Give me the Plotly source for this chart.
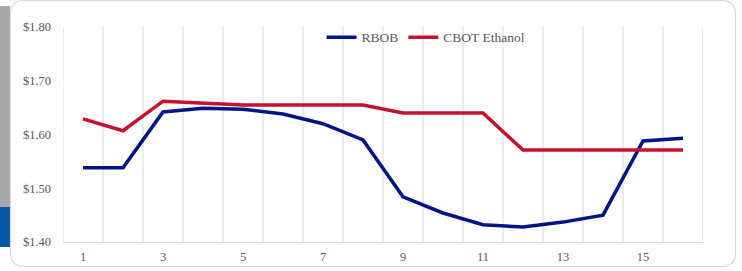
import plotly.graph_objects as go

categories = list(range(1, 17))
tick_labels = ["1", "", "3", "", "5", "", "7", "", "9", "", "11", "", "13", "", "15", ""]
rbob = [1.538, 1.538, 1.642, 1.649, 1.647, 1.638, 1.620, 1.590,
        1.484, 1.454, 1.432, 1.428, 1.437, 1.450, 1.588, 1.593]
ethanol = [1.629, 1.607, 1.662, 1.659, 1.655, 1.655, 1.655, 1.655,
           1.640, 1.640, 1.640, 1.571, 1.571, 1.571, 1.571, 1.571]
y_ticks = [1.40, 1.50, 1.60, 1.70, 1.80]

FONT = "Liberation Serif"
fig = go.Figure()
fig.add_trace(go.Scatter(x=categories, y=rbob, mode="lines", name="RBOB",
                         line=dict(color="#001489", width=3.5)))
fig.add_trace(go.Scatter(x=categories, y=ethanol, mode="lines", name="CBOT Ethanol",
                         line=dict(color="#c8102e", width=3.5)))

shapes = []
shapes.append(dict(type="rect", xref="paper", yref="paper", xsizemode="pixel", ysizemode="pixel",
                   xanchor=0, yanchor=0, x0=-63, x1=-53, y0=35, y1=236,
                   fillcolor="#a7a8ac", line=dict(width=0), layer="below"))
shapes.append(dict(type="rect", xref="paper", yref="paper", xsizemode="pixel", ysizemode="pixel",
                   xanchor=0, yanchor=0, x0=-63, x1=-53, y0=-5, y1=35,
                   fillcolor="#0057a8", line=dict(width=0), layer="below"))
L, R, T, B, r = -52.5, 672.5, 241.5, -24.5, 14
path = (f"M {L+r},{T} L {R-r},{T} Q {R},{T} {R},{T-r} L {R},{B+r} Q {R},{B} {R-r},{B} "
        f"L {L+r},{B} Q {L},{B} {L},{B+r} L {L},{T-r} Q {L},{T} {L+r},{T} Z")
shapes.append(dict(type="path", xref="paper", yref="paper", xsizemode="pixel", ysizemode="pixel",
                   xanchor=0, yanchor=0, path=path, fillcolor="white",
                   line=dict(color="#d9d9d9", width=1.2), layer="below"))
for b in [c + 0.5 for c in [0] + categories]:
    shapes.append(dict(type="line", xref="x", yref="paper", x0=b, x1=b, y0=0, y1=1,
                       line=dict(color="#d9d9d9", width=1), layer="below"))

fig.update_layout(
    width=742, height=271,
    margin=dict(l=63, r=39, t=27, b=29, autoexpand=False),
    paper_bgcolor="white", plot_bgcolor="rgba(0,0,0,0)",
    shapes=shapes,
    showlegend=True,
    legend=dict(orientation="h", x=0.404, xanchor="left", yref="container", y=0.919, yanchor="top",
                font=dict(family=FONT, size=13.5, color="#595959"),
                bgcolor="rgba(0,0,0,0)", itemwidth=30, tracegroupgap=0),
    xaxis=dict(range=[0.5, 16.5], tickmode="array", tickvals=categories, ticktext=tick_labels,
               showgrid=False, zeroline=False, showline=True, linecolor="#d9d9d9", linewidth=1,
               ticks="", tickfont=dict(family=FONT, size=12.5, color="#595959"), ticklabelstandoff=3),
    yaxis=dict(range=[1.40, 1.80], tickmode="array", tickvals=y_ticks,
               ticktext=[f"${v:.2f}" for v in y_ticks],
               showgrid=False, zeroline=False, showline=False, ticks="",
               tickfont=dict(family=FONT, size=12.5, color="#595959"), ticklabelstandoff=11),
)
fig.write_html("out.html", config={"displayModeBar": False},
               post_script="document.body.style.margin='0';document.body.style.overflow='hidden';")
